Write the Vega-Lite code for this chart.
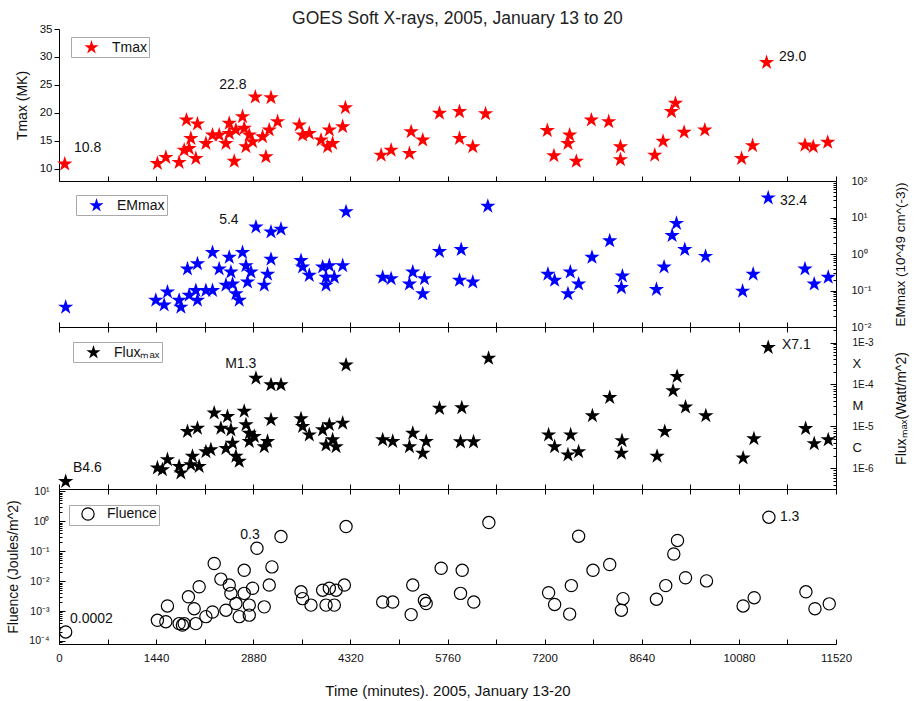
{
 "$schema": "https://vega.github.io/schema/vega-lite/v6.json",
 "padding": {"left": 6, "top": 9, "right": 2, "bottom": 2},
 "title": {"text": "GOES Soft X-rays, 2005, January 13 to 20", "fontSize": 17.5, "fontWeight": "normal", "font": "Liberation Sans", "color": "#222", "offset": -4, "anchor": "middle"},
 "config": {
  "view": {"stroke": null},
  "font": "Liberation Sans",
  "axis": {"grid": false, "domainColor": "#000", "tickColor": "#000", "labelColor": "#111", "titleColor": "#111", "titleFontWeight": "normal", "labelFont": "Liberation Sans", "titleFont": "Liberation Sans", "labelFontSize": 11.5, "titleFontSize": 14, "domainWidth": 1, "tickWidth": 1, "labelFlush": false},
  "legend": {"orient": "none", "strokeColor": "#aaa", "padding": 2, "labelFontSize": 14, "labelFont": "Liberation Sans", "labelColor": "#111", "symbolOffset": 10, "labelOffset": 12}
 },
 "spacing": 0,
 "bounds": "flush",
 "resolve": {"scale": {"y": "independent", "color": "independent"}, "legend": {"color": "independent"}},
 "vconcat": [
  {
   "width": 777, "height": 152,
   "resolve": {"axis": {"x": "independent", "y": "independent"}},
   "layer": [
    {
     "data": {"name": "tmax"},
     "mark": {"type": "point", "shape": "M0,-1L0.2245,-0.309L0.951,-0.309L0.363,0.118L0.588,0.809L0,0.382L-0.588,0.809L-0.363,0.118L-0.951,-0.309L-0.2245,-0.309Z", "filled": true, "size": 260, "opacity": 1},
     "encoding": {
      "x": {"field": "t", "type": "quantitative", "scale": {"domain": [0, 11520], "nice": false, "zero": false}, "axis": {"orient": "bottom", "values": [0,720,1440,2160,2880,3600,4320,5040,5760,6480,7200,7920,8640,9360,10080,10800,11520], "labels": false, "tickSize": -5, "title": null}},
      "y": {"field": "v", "type": "quantitative", "scale": {"domain": [7.77, 35], "nice": false, "zero": false}, "axis": {"orient": "left", "values": [10,15,20,25,30,35], "tickSize": 5, "labelPadding": 2, "title": "Tmax (MK)", "titlePadding": 10}},
      "color": {"datum": "Tmax", "scale": {"domain": ["Tmax"], "range": ["#ff0000"]}, "legend": {"title": null, "legendX": 12, "legendY": 8, "symbolType": "M0,-1L0.2245,-0.309L0.951,-0.309L0.363,0.118L0.588,0.809L0,0.382L-0.588,0.809L-0.363,0.118L-0.951,-0.309L-0.2245,-0.309Z", "symbolSize": 220}}
     }
    },
    {
     "data": {"name": "notes"},
     "transform": [{"filter": "datum.p == 'tmax'"}],
     "mark": {"type": "text", "align": "left", "baseline": "middle", "fontSize": 14, "color": "#111"},
     "encoding": {
      "x": {"field": "t", "type": "quantitative", "scale": {"domain": [0, 11520], "nice": false, "zero": false}, "axis": null},
      "y": {"field": "v", "type": "quantitative", "scale": {"domain": [7.77, 35], "nice": false, "zero": false}, "axis": null},
      "text": {"field": "s"}
     }
    }
   ]
  },
  {
   "width": 777, "height": 146,
   "resolve": {"axis": {"x": "independent", "y": "independent"}},
   "layer": [
    {
     "data": {"name": "em"},
     "mark": {"type": "point", "shape": "M0,-1L0.2245,-0.309L0.951,-0.309L0.363,0.118L0.588,0.809L0,0.382L-0.588,0.809L-0.363,0.118L-0.951,-0.309L-0.2245,-0.309Z", "filled": true, "size": 260, "opacity": 1},
     "encoding": {
      "x": {"field": "t", "type": "quantitative", "scale": {"domain": [0, 11520], "nice": false, "zero": false}, "axis": {"orient": "bottom", "values": [0,720,1440,2160,2880,3600,4320,5040,5760,6480,7200,7920,8640,9360,10080,10800,11520], "labels": false, "tickSize": -5, "title": null}},
      "y": {"field": "v", "type": "quantitative", "scale": {"type": "log", "domain": [0.01, 100], "nice": false}, "axis": {"orient": "right", "values": [0.01, 0.1, 1, 10, 100], "ticks": false, "labelPadding": 15, "labelFontSize": 11, "labelExpr": "datum.value < 0.05 ? '10⁻²' : datum.value < 0.5 ? '10⁻¹' : datum.value < 5 ? '10⁰' : datum.value < 50 ? '10¹' : '10²'", "title": "EMmax (10^49 cm^(-3))", "titleAngle": 270, "titleFontSize": 13.5, "titlePadding": 37}},
      "color": {"datum": "EMmax", "scale": {"domain": ["EMmax"], "range": ["#0000ff"]}, "legend": {"title": null, "legendX": 17, "legendY": 14, "symbolType": "M0,-1L0.2245,-0.309L0.951,-0.309L0.363,0.118L0.588,0.809L0,0.382L-0.588,0.809L-0.363,0.118L-0.951,-0.309L-0.2245,-0.309Z", "symbolSize": 220}}
     }
    },
    {
     "data": {"name": "notes"},
     "transform": [{"filter": "datum.p == 'em'"}],
     "mark": {"type": "text", "align": "left", "baseline": "middle", "fontSize": 14, "color": "#111"},
     "encoding": {
      "x": {"field": "t", "type": "quantitative", "scale": {"domain": [0, 11520], "nice": false, "zero": false}, "axis": null},
      "y": {"field": "v", "type": "quantitative", "scale": {"type": "log", "domain": [0.01, 100], "nice": false}, "axis": {"orient": "right", "values": [0.01,0.02,0.03,0.04,0.05,0.06,0.07,0.08,0.09,0.1,0.2,0.3,0.4,0.5,0.6,0.7,0.8,0.9,1,2,3,4,5,6,7,8,9,10,20,30,40,50,60,70,80,90,100], "labels": false, "domain": false, "title": null, "tickSize": {"condition": {"test": "abs(log(datum.value)/LN10 - round(log(datum.value)/LN10)) < 0.01", "value": -6}, "value": -3}}},
      "text": {"field": "s"}
     }
    }
   ]
  },
  {
   "width": 777, "height": 162,
   "resolve": {"axis": {"x": "independent", "y": "independent"}},
   "layer": [
    {
     "data": {"name": "flux"},
     "mark": {"type": "point", "shape": "M0,-1L0.2245,-0.309L0.951,-0.309L0.363,0.118L0.588,0.809L0,0.382L-0.588,0.809L-0.363,0.118L-0.951,-0.309L-0.2245,-0.309Z", "filled": true, "size": 260, "opacity": 1},
     "encoding": {
      "x": {"field": "t", "type": "quantitative", "scale": {"domain": [0, 11520], "nice": false, "zero": false}, "axis": {"orient": "bottom", "values": [0,720,1440,2160,2880,3600,4320,5040,5760,6480,7200,7920,8640,9360,10080,10800,11520], "labels": false, "tickSize": -5, "title": null}},
      "y": {"field": "v", "type": "quantitative", "scale": {"type": "log", "domain": [3.24e-7, 2.34e-3], "nice": false}, "axis": {"orient": "right", "values": [1e-6, 3.16e-6, 1e-5, 3.16e-5, 1e-4, 3.16e-4, 1e-3], "ticks": false, "labelPadding": 16, "labelFontSize": {"condition": {"test": "abs(log(datum.value)/LN10 - round(log(datum.value)/LN10)) > 0.3", "value": 13}, "value": 10}, "labelExpr": "datum.value < 2e-6 ? '1E-6' : datum.value < 5e-6 ? '  C' : datum.value < 2e-5 ? '1E-5' : datum.value < 5e-5 ? '  M' : datum.value < 2e-4 ? '1E-4' : datum.value < 5e-4 ? '  X' : '1E-3'", "title": "Fluxₘₐₓ(Watt/m^2)", "titleAngle": 270, "titleFontSize": 14, "titlePadding": 35}},
      "color": {"datum": "Fluxₘₐₓ", "scale": {"domain": ["Fluxₘₐₓ"], "range": ["#000000"]}, "legend": {"title": null, "legendX": 14, "legendY": 15, "symbolType": "M0,-1L0.2245,-0.309L0.951,-0.309L0.363,0.118L0.588,0.809L0,0.382L-0.588,0.809L-0.363,0.118L-0.951,-0.309L-0.2245,-0.309Z", "symbolSize": 220}}
     }
    },
    {
     "data": {"name": "notes"},
     "transform": [{"filter": "datum.p == 'flux'"}],
     "mark": {"type": "text", "align": "left", "baseline": "middle", "fontSize": 14, "color": "#111"},
     "encoding": {
      "x": {"field": "t", "type": "quantitative", "scale": {"domain": [0, 11520], "nice": false, "zero": false}, "axis": {"orient": "top", "values": [0,720,1440,2160,2880,3600,4320,5040,5760,6480,7200,7920,8640,9360,10080,10800,11520], "labels": false, "tickSize": -5, "title": null}},
      "y": {"field": "v", "type": "quantitative", "scale": {"type": "log", "domain": [3.24e-7, 2.34e-3], "nice": false}, "axis": {"orient": "right", "values": [4e-7,5e-7,6e-7,7e-7,8e-7,9e-7,1e-6,2e-6,3e-6,4e-6,5e-6,6e-6,7e-6,8e-6,9e-6,1e-5,2e-5,3e-5,4e-5,5e-5,6e-5,7e-5,8e-5,9e-5,1e-4,2e-4,3e-4,4e-4,5e-4,6e-4,7e-4,8e-4,9e-4,1e-3,2e-3], "labels": false, "domain": false, "title": null, "tickSize": {"condition": {"test": "abs(log(datum.value)/LN10 - round(log(datum.value)/LN10)) < 0.01", "value": -6}, "value": -3}}},
      "text": {"field": "s"}
     }
    }
   ]
  },
  {
   "width": 777, "height": 155,
   "resolve": {"axis": {"x": "independent", "y": "independent"}},
   "layer": [
    {
     "data": {"name": "fluence"},
     "mark": {"type": "point", "shape": "circle", "filled": false, "size": 150, "strokeWidth": 1.2, "opacity": 1},
     "encoding": {
      "x": {"field": "t", "type": "quantitative", "scale": {"domain": [0, 11520], "nice": false, "zero": false}, "axis": {"orient": "bottom", "values": [0,720,1440,2160,2880,3600,4320,5040,5760,6480,7200,7920,8640,9360,10080,10800,11520], "format": "d", "labelExpr": "datum.value % 1440 == 0 ? datum.label : ''", "tickSize": -5, "labelPadding": 13, "labelFontSize": 11.5, "title": "Time (minutes). 2005, January 13-20", "titleFontSize": 15, "titlePadding": 20}},
      "y": {"field": "v", "type": "quantitative", "scale": {"type": "log", "domain": [7.9e-5, 12.1], "nice": false}, "axis": {"orient": "left", "values": [1e-4, 1e-3, 1e-2, 0.1, 1, 10], "ticks": false, "labelPadding": 10, "labelFontSize": 10.5, "labelExpr": "datum.value < 5e-4 ? '10⁻⁴' : datum.value < 5e-3 ? '10⁻³' : datum.value < 0.05 ? '10⁻²' : datum.value < 0.5 ? '10⁻¹' : datum.value < 5 ? '10⁰' : '10¹'", "title": "Fluence (Joules/m^2)", "titleFontSize": 14, "titlePadding": 8}},
      "color": {"datum": "Fluence", "scale": {"domain": ["Fluence"], "range": ["#000000"]}, "legend": {"title": null, "legendX": 10, "legendY": 16, "symbolType": "circle", "symbolSize": 150, "symbolStrokeWidth": 1.2}}
     }
    },
    {
     "data": {"name": "notes"},
     "transform": [{"filter": "datum.p == 'fluence'"}],
     "mark": {"type": "text", "align": "left", "baseline": "middle", "fontSize": 14, "color": "#111"},
     "encoding": {
      "x": {"field": "t", "type": "quantitative", "scale": {"domain": [0, 11520], "nice": false, "zero": false}, "axis": {"orient": "top", "values": [0,720,1440,2160,2880,3600,4320,5040,5760,6480,7200,7920,8640,9360,10080,10800,11520], "labels": false, "tickSize": -5, "title": null}},
      "y": {"field": "v", "type": "quantitative", "scale": {"type": "log", "domain": [7.9e-5, 12.1], "nice": false}, "axis": {"orient": "left", "values": [8e-5,9e-5,1e-4,2e-4,3e-4,4e-4,5e-4,6e-4,7e-4,8e-4,9e-4,1e-3,2e-3,3e-3,4e-3,5e-3,6e-3,7e-3,8e-3,9e-3,0.01,0.02,0.03,0.04,0.05,0.06,0.07,0.08,0.09,0.1,0.2,0.3,0.4,0.5,0.6,0.7,0.8,0.9,1,2,3,4,5,6,7,8,9,10], "labels": false, "domain": false, "title": null, "tickSize": {"condition": {"test": "abs(log(datum.value)/LN10 - round(log(datum.value)/LN10)) < 0.01", "value": -6}, "value": -3}}},
      "text": {"field": "s"}
     }
    }
   ]
  }
 ],
 "datasets": {
  "tmax": [{"t":85,"v":10.8},{"t":1459,"v":10.9},{"t":1584,"v":12.0},{"t":1781,"v":11.1},{"t":1856,"v":13.3},{"t":1890,"v":18.7},{"t":1930,"v":13.6},{"t":1955,"v":15.4},{"t":2029,"v":11.8},{"t":2053,"v":18.0},{"t":2178,"v":14.5},{"t":2276,"v":16.0},{"t":2375,"v":16.0},{"t":2475,"v":14.5},{"t":2524,"v":18.1},{"t":2524,"v":16.3},{"t":2598,"v":11.3},{"t":2623,"v":16.9},{"t":2721,"v":19.3},{"t":2746,"v":17.2},{"t":2772,"v":13.9},{"t":2821,"v":16.0},{"t":2870,"v":14.8},{"t":2910,"v":22.8},{"t":3018,"v":15.7},{"t":3068,"v":12.1},{"t":3117,"v":16.9},{"t":3143,"v":22.7},{"t":3241,"v":18.4},{"t":3563,"v":17.8},{"t":3612,"v":16.0},{"t":3711,"v":16.3},{"t":3885,"v":15.1},{"t":3983,"v":13.9},{"t":4008,"v":16.9},{"t":4057,"v":14.5},{"t":4206,"v":17.5},{"t":4246,"v":20.9},{"t":4776,"v":12.4},{"t":4924,"v":13.3},{"t":5196,"v":12.7},{"t":5221,"v":16.6},{"t":5393,"v":15.1},{"t":5641,"v":19.9},{"t":5938,"v":20.2},{"t":5938,"v":15.4},{"t":6135,"v":13.9},{"t":6324,"v":19.8},{"t":7240,"v":16.8},{"t":7338,"v":12.3},{"t":7546,"v":14.5},{"t":7571,"v":16.0},{"t":7670,"v":11.3},{"t":7893,"v":18.7},{"t":8150,"v":18.4},{"t":8324,"v":13.9},{"t":8324,"v":11.6},{"t":8833,"v":12.4},{"t":8956,"v":14.9},{"t":9081,"v":20.2},{"t":9140,"v":21.7},{"t":9268,"v":16.5},{"t":9575,"v":16.9},{"t":10120,"v":11.8},{"t":10283,"v":14.1},{"t":10491,"v":29.0},{"t":11060,"v":14.2},{"t":11183,"v":13.9},{"t":11397,"v":14.7}],
  "em": [{"t":99,"v":0.035},{"t":1435,"v":0.054},{"t":1559,"v":0.040},{"t":1608,"v":0.091},{"t":1781,"v":0.054},{"t":1807,"v":0.035},{"t":1905,"v":0.39},{"t":1930,"v":0.074},{"t":2029,"v":0.10},{"t":2053,"v":0.54},{"t":2053,"v":0.054},{"t":2178,"v":0.10},{"t":2276,"v":0.10},{"t":2276,"v":1.10},{"t":2375,"v":0.39},{"t":2475,"v":0.14},{"t":2524,"v":0.81},{"t":2549,"v":0.32},{"t":2573,"v":0.15},{"t":2623,"v":0.081},{"t":2672,"v":0.054},{"t":2721,"v":1.10},{"t":2772,"v":0.48},{"t":2795,"v":0.17},{"t":2846,"v":0.32},{"t":2920,"v":5.5},{"t":3043,"v":0.14},{"t":3092,"v":0.28},{"t":3143,"v":0.72},{"t":3143,"v":4.0},{"t":3291,"v":4.8},{"t":3588,"v":0.66},{"t":3612,"v":0.44},{"t":3711,"v":0.26},{"t":3909,"v":0.44},{"t":3959,"v":0.23},{"t":3959,"v":0.14},{"t":4008,"v":0.48},{"t":4082,"v":0.23},{"t":4206,"v":0.48},{"t":4256,"v":14.4},{"t":4799,"v":0.23},{"t":4924,"v":0.21},{"t":5196,"v":0.15},{"t":5245,"v":0.32},{"t":5393,"v":0.081},{"t":5418,"v":0.21},{"t":5641,"v":1.17},{"t":5938,"v":0.19},{"t":5963,"v":1.32},{"t":6135,"v":0.17},{"t":6358,"v":20.4},{"t":7249,"v":0.28},{"t":7348,"v":0.19},{"t":7546,"v":0.081},{"t":7581,"v":0.32},{"t":7704,"v":0.15},{"t":7902,"v":0.81},{"t":8165,"v":2.3},{"t":8338,"v":0.12},{"t":8353,"v":0.25},{"t":8858,"v":0.107},{"t":8971,"v":0.44},{"t":9090,"v":3.2},{"t":9155,"v":6.9},{"t":9278,"v":1.32},{"t":9586,"v":0.86},{"t":10135,"v":0.096},{"t":10292,"v":0.28},{"t":10515,"v":34.5},{"t":11060,"v":0.39},{"t":11197,"v":0.15},{"t":11405,"v":0.23}],
  "flux": [{"t":99,"v":4.9e-7},{"t":1459,"v":1.03e-6},{"t":1533,"v":9.3e-7},{"t":1608,"v":1.62e-6},{"t":1781,"v":1.12e-6},{"t":1807,"v":7.8e-7},{"t":1905,"v":7.6e-6},{"t":1955,"v":1.23e-6},{"t":1979,"v":1.95e-6},{"t":2053,"v":9.1e-6},{"t":2078,"v":1.12e-6},{"t":2178,"v":2.5e-6},{"t":2252,"v":2.8e-6},{"t":2301,"v":2.1e-5},{"t":2400,"v":9.1e-6},{"t":2475,"v":3.0e-6},{"t":2498,"v":1.73e-5},{"t":2549,"v":8.3e-6},{"t":2573,"v":4.0e-6},{"t":2623,"v":1.95e-6},{"t":2672,"v":1.48e-6},{"t":2746,"v":2.3e-5},{"t":2772,"v":1.1e-5},{"t":2821,"v":6.9e-6},{"t":2821,"v":4.4e-6},{"t":2895,"v":5.8e-6},{"t":2920,"v":1.41e-4},{"t":3043,"v":3.3e-6},{"t":3092,"v":4.4e-6},{"t":3143,"v":1.45e-5},{"t":3143,"v":9.8e-5},{"t":3291,"v":9.8e-5},{"t":3588,"v":1.52e-5},{"t":3612,"v":1.0e-5},{"t":3711,"v":6.3e-6},{"t":3909,"v":8.3e-6},{"t":3959,"v":3.6e-6},{"t":4008,"v":1.1e-5},{"t":4057,"v":4.8e-6},{"t":4108,"v":3.3e-6},{"t":4206,"v":1.2e-5},{"t":4256,"v":2.9e-4},{"t":4799,"v":4.8e-6},{"t":4948,"v":4.4e-6},{"t":5196,"v":3.3e-6},{"t":5245,"v":6.9e-6},{"t":5393,"v":2.3e-6},{"t":5444,"v":4.4e-6},{"t":5641,"v":2.7e-5},{"t":5953,"v":4.3e-6},{"t":5972,"v":2.8e-5},{"t":6146,"v":4.3e-6},{"t":6369,"v":4.2e-4},{"t":7259,"v":6.3e-6},{"t":7348,"v":3.3e-6},{"t":7546,"v":2.1e-6},{"t":7586,"v":6.3e-6},{"t":7704,"v":2.5e-6},{"t":7908,"v":1.8e-5},{"t":8165,"v":4.9e-5},{"t":8338,"v":2.3e-6},{"t":8347,"v":4.6e-6},{"t":8867,"v":1.95e-6},{"t":8981,"v":7.6e-6},{"t":9104,"v":7.1e-5},{"t":9164,"v":1.55e-4},{"t":9289,"v":2.9e-5},{"t":9590,"v":1.8e-5},{"t":10143,"v":1.78e-6},{"t":10303,"v":5.1e-6},{"t":10515,"v":7.6e-4},{"t":11070,"v":8.9e-6},{"t":11197,"v":3.9e-6},{"t":11405,"v":4.8e-6}],
  "fluence": [{"t":99,"v":2.0e-4},{"t":1459,"v":4.9e-4},{"t":1584,"v":4.4e-4},{"t":1608,"v":1.48e-3},{"t":1781,"v":3.8e-4},{"t":1830,"v":3.4e-4},{"t":1856,"v":3.8e-4},{"t":1919,"v":3.0e-3},{"t":2004,"v":1.2e-3},{"t":2029,"v":3.8e-4},{"t":2078,"v":6.5e-3},{"t":2178,"v":6.5e-4},{"t":2276,"v":9.3e-4},{"t":2301,"v":0.039},{"t":2400,"v":0.0117},{"t":2475,"v":1.07e-3},{"t":2524,"v":7.4e-3},{"t":2549,"v":3.9e-3},{"t":2623,"v":1.78e-3},{"t":2672,"v":6.5e-4},{"t":2746,"v":0.023},{"t":2746,"v":3.9e-3},{"t":2821,"v":1.58e-3},{"t":2821,"v":7.3e-4},{"t":2870,"v":5.8e-3},{"t":2935,"v":0.126},{"t":3043,"v":1.38e-3},{"t":3117,"v":7.4e-3},{"t":3157,"v":0.030},{"t":3291,"v":0.31},{"t":3588,"v":4.4e-3},{"t":3612,"v":2.6e-3},{"t":3736,"v":1.58e-3},{"t":3909,"v":5.0e-3},{"t":3959,"v":1.58e-3},{"t":4008,"v":5.8e-3},{"t":4082,"v":1.58e-3},{"t":4108,"v":5.0e-3},{"t":4231,"v":7.4e-3},{"t":4256,"v":0.67},{"t":4799,"v":2.0e-3},{"t":4948,"v":2.0e-3},{"t":5221,"v":7.6e-4},{"t":5245,"v":7.4e-3},{"t":5418,"v":2.3e-3},{"t":5444,"v":1.78e-3},{"t":5666,"v":0.027},{"t":5953,"v":3.9e-3},{"t":5978,"v":0.023},{"t":6150,"v":2.0e-3},{"t":6373,"v":0.91},{"t":7259,"v":4.1e-3},{"t":7348,"v":1.66e-3},{"t":7571,"v":7.9e-4},{"t":7596,"v":7.1e-3},{"t":7704,"v":0.32},{"t":7917,"v":0.023},{"t":8165,"v":0.036},{"t":8338,"v":1.07e-3},{"t":8362,"v":2.6e-3},{"t":8858,"v":2.5e-3},{"t":8996,"v":7.1e-3},{"t":9115,"v":0.081},{"t":9170,"v":0.23},{"t":9289,"v":0.013},{"t":9600,"v":0.0102},{"t":10143,"v":1.48e-3},{"t":10307,"v":2.8e-3},{"t":10525,"v":1.38},{"t":11074,"v":4.4e-3},{"t":11208,"v":1.2e-3},{"t":11420,"v":1.74e-3}],
  "notes": [{"p":"tmax","t":223,"v":13.6,"s":"10.8"},{"p":"tmax","t":2375,"v":25.0,"s":"22.8"},{"p":"tmax","t":10674,"v":30.0,"s":"29.0"},{"p":"em","t":2375,"v":8.3,"s":"5.4"},{"p":"em","t":10688,"v":28,"s":"32.4"},{"p":"flux","t":2464,"v":3.1e-4,"s":"M1.3"},{"p":"flux","t":208,"v":1.03e-6,"s":"B4.6"},{"p":"flux","t":10718,"v":8.8e-4,"s":"X7.1"},{"p":"fluence","t":2687,"v":0.355,"s":"0.3"},{"p":"fluence","t":163,"v":5.4e-4,"s":"0.0002"},{"p":"fluence","t":10688,"v":1.45,"s":"1.3"}]
 }
}
